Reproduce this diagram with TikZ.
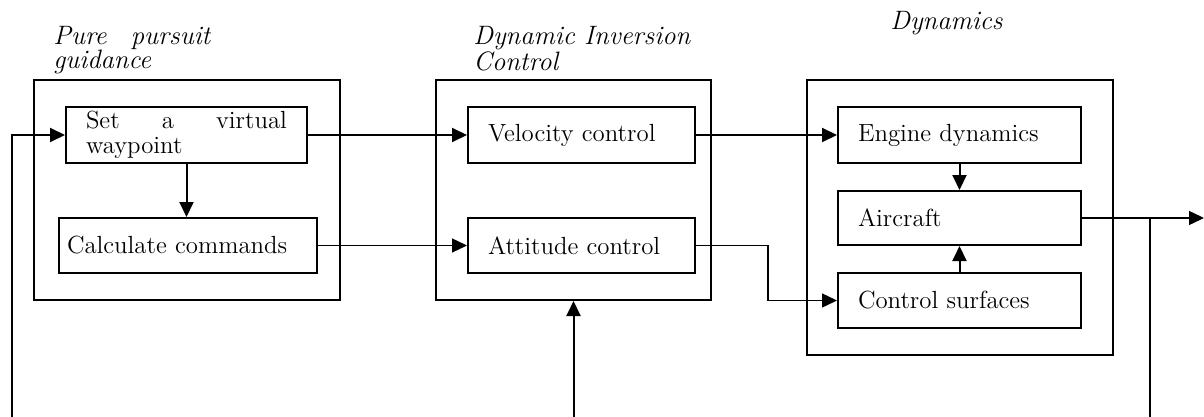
\documentclass[tikz,border=0pt]{standalone}
\usetikzlibrary{arrows.meta}

\begin{document}
\begin{tikzpicture}[
  x=0.5pt, y=-0.5pt,
  group/.style={draw, line width=1pt, inner sep=0pt},
  block/.style={draw, line width=1pt, minimum height=28pt, inner ysep=0pt,
    inner xsep=10pt, align=left, font=\fontsize{12.4}{12.5}\selectfont},
  title/.style={inner sep=0pt, align=left, font=\fontsize{13.3}{12}\selectfont\itshape},
  arr/.style={line width=1pt, -{Triangle[length=7.5pt,width=7pt]}},
]
\useasboundingbox (0,0) rectangle (1204,417);

\node (guid) [group, minimum width=153pt, minimum height=110pt] at (187,190) {};
\node (dic) [group, minimum width=137.5pt, minimum height=110pt] at (573.5,190) {};
\node (dyn) [group, minimum width=153pt, minimum height=137.5pt] at (960,217.5) {};

\node (guidT) [title, anchor=north west] at (53,26) {\makebox[78.5pt][l]{Pure\hfill pursuit}\\guidance};
\node (dicT) [title, anchor=north west] at (473,26) {Dynamic Inversion\\Control};
\node (dynT) [title, anchor=base west] at (890,30) {Dynamics};

\node (way) [block, text width=100.5pt] at (186.5,135) {\makebox[100.5pt][l]{Set\hfill a\hfill virtual}\\waypoint};
\node (calc) [block, inner xsep=4pt, text width=121pt, minimum height=27.5pt] at (188,245.5) {Calculate commands};
\node (vel) [block, text width=93.5pt] at (581.5,135) {Velocity control};
\node (att) [block, text width=93.5pt, minimum height=27.5pt] at (581.5,245.5) {Attitude control};
\node (eng) [block, text width=101.5pt] at (959.5,135) {Engine dynamics};
\node (air) [block, text width=101.5pt, minimum height=27pt] at (959.5,218) {Aircraft};
\node (surf) [block, text width=101.5pt, minimum height=27.5pt] at (959.5,300.5) {Control surfaces};

\coordinate (fbL) at (12,417);
\coordinate (fbM) at (573.5,417);
\coordinate (fbR) at (1150,417);
\coordinate (out) at (1204,218);

\draw[arr] (fbL) |- (way.west);
\draw[arr] (way.south) -- (way.south |- calc.north);
\draw[arr] (way.east) -- (vel.west);
\draw[arr, line width=0.7pt] (calc.east) -- (att.west);
\draw[arr] (vel.east) -- (eng.west);
\draw[arr, line width=0.7pt] (att.east) -- ++(72,0) |- (surf.west);
\draw[arr] (eng.south) -- (air.north);
\draw[arr] (surf.north) -- (air.south);
\draw[arr, line width=0.7pt] (air.east) -- (out);
\draw[line width=1pt] (fbR) -- (fbR |- air.east);
\draw[arr] (fbM) -- (dic.south);

\end{tikzpicture}
\end{document}
